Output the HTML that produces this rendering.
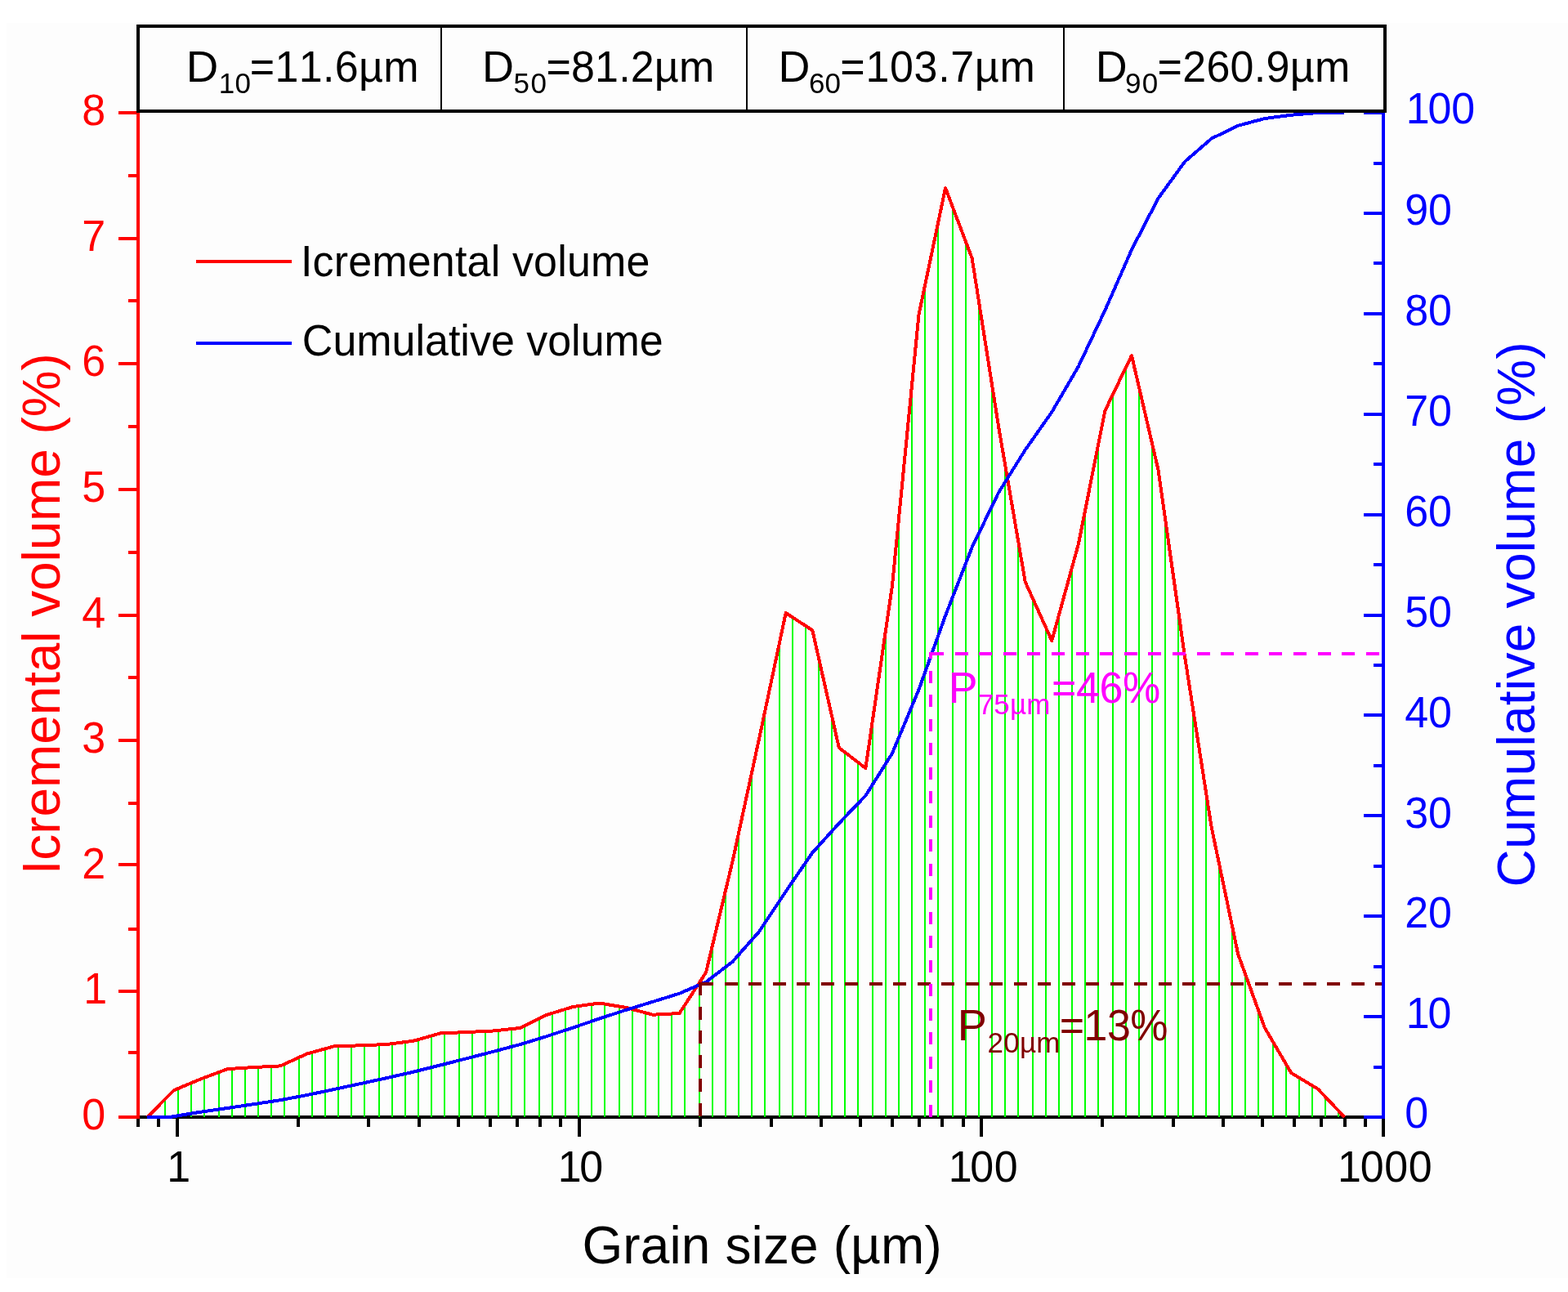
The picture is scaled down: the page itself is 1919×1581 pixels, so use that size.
<!DOCTYPE html>
<html lang="en"><head><meta charset="utf-8"><title>Grain size distribution</title>
<style>
html,body{margin:0;padding:0;background:#ffffff;}
body{width:1919px;height:1581px;overflow:hidden;}
svg{display:block;}
text{white-space:pre;font-kerning:none;font-variant-ligatures:none;}
</style></head><body>
<svg width="1919" height="1581" viewBox="0 0 1919 1581" font-family='"Liberation Sans", Arial, sans-serif'>
<rect x="0" y="0" width="1919" height="1581" fill="#ffffff"/>
<rect x="8" y="28" width="1911" height="1536" fill="#fdfdfd"/>
<g stroke="#000" stroke-width="4" fill="none" shape-rendering="crispEdges">
<path d="M167.0 1367.0H1695.2"/>
<path d="M216.6 1367.0v24M708.8 1367.0v24M1201.0 1367.0v24M1693.2 1367.0v24M168.9 1367.0v12M194.1 1367.0v12M364.8 1367.0v12M451.4 1367.0v12M512.9 1367.0v12M560.6 1367.0v12M599.6 1367.0v12M632.6 1367.0v12M661.1 1367.0v12M686.3 1367.0v12M857.0 1367.0v12M943.6 1367.0v12M1005.1 1367.0v12M1052.8 1367.0v12M1091.8 1367.0v12M1124.8 1367.0v12M1153.3 1367.0v12M1178.5 1367.0v12M1349.2 1367.0v12M1435.8 1367.0v12M1497.3 1367.0v12M1545.0 1367.0v12M1584.0 1367.0v12M1617.0 1367.0v12M1645.5 1367.0v12M1670.7 1367.0v12"/>
</g>
<defs><clipPath id="area"><polygon points="180.35,1367 212.907,1334.1 245.464,1320.5 278.021,1308.2 310.578,1306 343.135,1304.4 375.692,1289.5 408.249,1280.5 440.806,1279.3 473.363,1278 505.92,1273.75 538.477,1264.5 571.034,1263 603.591,1261.5 636.148,1258 668.705,1242 701.262,1232 733.819,1227.5 766.376,1233 798.933,1241.75 831.49,1240 864.047,1190 896.604,1053.7 929.161,903.5 961.718,750 994.275,771.25 1026.832,915 1059.389,940 1091.946,716.8 1124.503,385 1157.06,230 1189.617,316 1222.174,522.5 1254.731,712 1287.288,784 1319.845,665.9 1352.402,502.5 1384.959,435 1417.516,575 1450.073,803.7 1482.63,1012 1515.187,1167.5 1547.744,1257.5 1580.301,1313 1612.858,1332.5 1645.415,1367"/></clipPath></defs>
<path d="M202 138V1367M218 138V1367M234 138V1367M250 138V1367M268 138V1367M284 138V1367M300 138V1367M316 138V1367M332 138V1367M348 138V1367M366 138V1367M382 138V1367M398 138V1367M414 138V1367M430 138V1367M446 138V1367M464 138V1367M480 138V1367M496 138V1367M512 138V1367M528 138V1367M544 138V1367M562 138V1367M578 138V1367M594 138V1367M610 138V1367M626 138V1367M642 138V1367M660 138V1367M676 138V1367M692 138V1367M708 138V1367M724 138V1367M740 138V1367M758 138V1367M774 138V1367M790 138V1367M806 138V1367M822 138V1367M838 138V1367M856 138V1367M872 138V1367M888 138V1367M904 138V1367M920 138V1367M936 138V1367M954 138V1367M970 138V1367M986 138V1367M1002 138V1367M1018 138V1367M1034 138V1367M1050 138V1367M1068 138V1367M1084 138V1367M1100 138V1367M1116 138V1367M1132 138V1367M1148 138V1367M1166 138V1367M1182 138V1367M1198 138V1367M1214 138V1367M1230 138V1367M1246 138V1367M1264 138V1367M1280 138V1367M1296 138V1367M1312 138V1367M1328 138V1367M1344 138V1367M1362 138V1367M1378 138V1367M1394 138V1367M1410 138V1367M1426 138V1367M1442 138V1367M1460 138V1367M1476 138V1367M1492 138V1367M1508 138V1367M1524 138V1367M1540 138V1367M1558 138V1367M1574 138V1367M1590 138V1367M1606 138V1367M1622 138V1367M1638 138V1367" stroke="#00ff00" stroke-width="2" fill="none" clip-path="url(#area)" shape-rendering="crispEdges"/>
<polyline points="180.35,1367 212.907,1334.1 245.464,1320.5 278.021,1308.2 310.578,1306 343.135,1304.4 375.692,1289.5 408.249,1280.5 440.806,1279.3 473.363,1278 505.92,1273.75 538.477,1264.5 571.034,1263 603.591,1261.5 636.148,1258 668.705,1242 701.262,1232 733.819,1227.5 766.376,1233 798.933,1241.75 831.49,1240 864.047,1190 896.604,1053.7 929.161,903.5 961.718,750 994.275,771.25 1026.832,915 1059.389,940 1091.946,716.8 1124.503,385 1157.06,230 1189.617,316 1222.174,522.5 1254.731,712 1287.288,784 1319.845,665.9 1352.402,502.5 1384.959,435 1417.516,575 1450.073,803.7 1482.63,1012 1515.187,1167.5 1547.744,1257.5 1580.301,1313 1612.858,1332.5 1645.415,1367" fill="none" stroke="#ff0000" stroke-width="4" stroke-linejoin="round" shape-rendering="crispEdges"/>
<polyline points="180.35,1367 209.5,1366.7 245.464,1360.686 278.021,1356.011 310.578,1351.161 343.135,1346.183 375.692,1340.02 408.249,1333.142 440.806,1326.169 473.363,1319.092 505.92,1311.677 538.477,1303.527 571.034,1295.257 603.591,1286.868 636.148,1278.201 668.705,1268.262 701.262,1257.527 733.819,1246.435 766.376,1235.78 798.933,1225.821 831.49,1215.722 864.047,1201.648 896.604,1176.736 929.161,1139.881 961.718,1090.82 994.275,1043.448 1026.832,1007.507 1059.389,973.554 1091.946,921.854 1124.503,843.77 1157.06,753.361 1189.617,669.79 1222.174,602.64 1254.731,550.557 1287.288,504.2 1319.845,448.451 1352.402,379.711 1384.959,305.602 1417.516,242.626 1450.073,197.835 1482.63,169.607 1515.187,153.744 1547.744,145.037 1580.301,140.743 1612.858,138 1645.415,138" fill="none" stroke="#0000ff" stroke-width="4" stroke-linejoin="round" shape-rendering="crispEdges"/>
<g fill="none" stroke-width="4" shape-rendering="crispEdges">
<path d="M857.0 1204.2H1693.2" stroke="#800000" stroke-dasharray="16 13.5"/>
<path d="M857.0 1202.2V1367.0" stroke="#800000" stroke-dasharray="16 13.5"/>
<path d="M1139.0 800.2H1693.2" stroke="#ff00ff" stroke-dasharray="16 13.6"/>
<path d="M1139.0 1367.0V798.2" stroke="#ff00ff" stroke-dasharray="15 14.52"/>
</g>
<g stroke="#ff0000" stroke-width="4" fill="none" shape-rendering="crispEdges">
<path d="M169.0 136.0V1369.0M169.0 1367.0h-24.5M169.0 1213.4h-24.5M169.0 1057.8h-24.5M169.0 906.1h-24.5M169.0 752.5h-24.5M169.0 598.9h-24.5M169.0 445.2h-24.5M169.0 291.6h-24.5M169.0 138.0h-24.5M169.0 1288.4h-12.5M169.0 1136.6h-12.5M169.0 982.9h-12.5M169.0 829.3h-12.5M169.0 675.7h-12.5M169.0 522.1h-12.5M169.0 368.4h-12.5M169.0 214.8h-12.5"/></g>
<g stroke="#0000ff" stroke-width="4" fill="none" shape-rendering="crispEdges">
<path d="M1693.2 136.0V1369.0M1693.2 1367.0h-24.5M1693.2 1244.1h-24.5M1693.2 1121.2h-24.5M1693.2 998.3h-24.5M1693.2 875.4h-24.5M1693.2 752.5h-24.5M1693.2 629.6h-24.5M1693.2 506.7h-24.5M1693.2 383.8h-24.5M1693.2 260.9h-24.5M1693.2 138.0h-24.5M1693.2 1305.5h-12.5M1693.2 1182.7h-12.5M1693.2 1059.8h-12.5M1693.2 936.9h-12.5M1693.2 814.0h-12.5M1693.2 691.0h-12.5M1693.2 568.1h-12.5M1693.2 445.2h-12.5M1693.2 322.3h-12.5M1693.2 199.5h-12.5"/></g>
<rect x="169.0" y="32.0" width="1526.3" height="104.0" fill="#fdfdfd" stroke="#000" stroke-width="4" shape-rendering="crispEdges"/>
<path d="M539.5 32.0V136.0M913.75 32.0V136.0M1301.75 32.0V136.0" stroke="#000" stroke-width="2" shape-rendering="crispEdges"/>
<text transform="translate(227.713 100) scale(1.052 1.045)" font-size="52" fill="#000">D</text>
<text transform="translate(267.634 113.5) scale(1 1.02)" font-size="35" fill="#000" letter-spacing="0.503">10</text>
<text transform="translate(305.761 100) scale(1 1.045)" font-size="52" fill="#000" letter-spacing="0.336">=11.6µm</text>
<text transform="translate(589.968 100) scale(1.039 1.045)" font-size="52" fill="#000">D</text>
<text transform="translate(628.599 113.5) scale(1 1.02)" font-size="35" fill="#000" letter-spacing="1.338">50</text>
<text transform="translate(668.561 100) scale(1 1.045)" font-size="52" fill="#000" letter-spacing="0.136">=81.2µm</text>
<text transform="translate(952.382 100) scale(1.036 1.045)" font-size="52" fill="#000">D</text>
<text transform="translate(990.123 113.5) scale(1 1.02)" font-size="35" fill="#000" letter-spacing="0.014">60</text>
<text transform="translate(1028.361 100) scale(1 1.045)" font-size="52" fill="#000" letter-spacing="0.671">=103.7µm</text>
<text transform="translate(1340.682 100) scale(1.036 1.045)" font-size="52" fill="#000">D</text>
<text transform="translate(1377.059 113.5) scale(1 1.02)" font-size="35" fill="#000" letter-spacing="1.277">90</text>
<text transform="translate(1416.561 100) scale(1 1.045)" font-size="52" fill="#000" letter-spacing="0.285">=260.9µm</text>
<path d="M239.5 320H357" stroke="#ff0000" stroke-width="4" shape-rendering="crispEdges"/>
<path d="M239.5 420H357" stroke="#0000ff" stroke-width="4" shape-rendering="crispEdges"/>
<text transform="translate(368.001 338.3) scale(1 1.015)" font-size="52" fill="#000" letter-spacing="0.167">Icremental volume</text>
<text transform="translate(369.859 435.1) scale(1 1.015)" font-size="52" fill="#000" letter-spacing="-0.008">Cumulative volume</text>
<text transform="translate(1160.792 860.2) scale(1.033 1.045)" font-size="52" fill="#ff00ff">P</text>
<text transform="translate(1196.806 873.8) scale(1 1.02)" font-size="35" fill="#ff00ff" letter-spacing="0.083">75µm</text>
<text transform="translate(1286.961 860.2) scale(1 1.045)" font-size="52" fill="#ff00ff" letter-spacing="-0.384">=46%</text>
<text transform="translate(1171.761 1272.5) scale(1.041 1.045)" font-size="52" fill="#800000">P</text>
<text transform="translate(1208.44 1288.4) scale(1 1.02)" font-size="35" fill="#800000" letter-spacing="0.272">20µm</text>
<text transform="translate(1296.761 1272.5) scale(1 1.045)" font-size="52" fill="#800000" letter-spacing="-0.550">=13%</text>
<text transform="translate(100.3 1382.1) scale(1 1.045)" font-size="52" fill="#ff0000">0</text>
<text transform="translate(102.3 1228.475) scale(1 1.045)" font-size="52" fill="#ff0000">1</text>
<text transform="translate(100.3 1074.85) scale(1 1.045)" font-size="52" fill="#ff0000">2</text>
<text transform="translate(100.3 921.225) scale(1 1.045)" font-size="52" fill="#ff0000">3</text>
<text transform="translate(100.3 767.6) scale(1 1.045)" font-size="52" fill="#ff0000">4</text>
<text transform="translate(100.3 613.975) scale(1 1.045)" font-size="52" fill="#ff0000">5</text>
<text transform="translate(100.3 460.35) scale(1 1.045)" font-size="52" fill="#ff0000">6</text>
<text transform="translate(100.3 306.725) scale(1 1.045)" font-size="52" fill="#ff0000">7</text>
<text transform="translate(100.3 153.1) scale(1 1.045)" font-size="52" fill="#ff0000">8</text>
<text transform="translate(1719.2 1380.1) scale(1 1.045)" font-size="52" fill="#0000ff">0</text>
<text transform="translate(0 1258.3) scale(1 1.045)" y="0" font-size="52" fill="#0000ff"><tspan x="1720.729">1</tspan><tspan x="1747.469">0</tspan></text>
<text transform="translate(1719.2 1135.4) scale(1 1.045)" font-size="52" fill="#0000ff">20</text>
<text transform="translate(1719.2 1012.5) scale(1 1.045)" font-size="52" fill="#0000ff">30</text>
<text transform="translate(1719.2 889.6) scale(1 1.045)" font-size="52" fill="#0000ff">40</text>
<text transform="translate(1719.2 766.7) scale(1 1.045)" font-size="52" fill="#0000ff">50</text>
<text transform="translate(1719.2 643.8) scale(1 1.045)" font-size="52" fill="#0000ff">60</text>
<text transform="translate(1719.2 520.9) scale(1 1.045)" font-size="52" fill="#0000ff">70</text>
<text transform="translate(1719.2 398) scale(1 1.045)" font-size="52" fill="#0000ff">80</text>
<text transform="translate(1719.2 275.1) scale(1 1.045)" font-size="52" fill="#0000ff">90</text>
<text transform="translate(0 151.4) scale(1 1.045)" y="0" font-size="52" fill="#0000ff"><tspan x="1720.729">1</tspan><tspan x="1747.469" letter-spacing="-0.177">00</tspan></text>
<text transform="translate(0 1446.3) scale(1 1.045)" y="0" font-size="52" fill="#000"><tspan x="204.329">1</tspan></text>
<text transform="translate(0 1446.3) scale(1 1.045)" y="0" font-size="52" fill="#000"><tspan x="682.629">1</tspan><tspan x="709.269">0</tspan></text>
<text transform="translate(0 1446.3) scale(1 1.045)" y="0" font-size="52" fill="#000"><tspan x="1160.829">1</tspan><tspan x="1187.169" letter-spacing="0.623">00</tspan></text>
<text transform="translate(0 1446.3) scale(1 1.045)" y="0" font-size="52" fill="#000"><tspan x="1637.029">1</tspan><tspan x="1664.869" letter-spacing="0.501">000</tspan></text>
<text transform="translate(712.381 1546.4) scale(1 1.005)" font-size="64" fill="#000" letter-spacing="0.129">Grain size (µm)</text>
<text transform="translate(72.7 1070.306) rotate(-90) scale(1 1.005)" font-size="64" fill="#ff0000" letter-spacing="-0.101">Icremental volume (%)</text>
<text transform="translate(1877.5 1085.45) rotate(-90) scale(1 1.005)" font-size="64" fill="#0000ff" letter-spacing="0.289">Cumulative volume (%)</text>
</svg>
</body></html>
